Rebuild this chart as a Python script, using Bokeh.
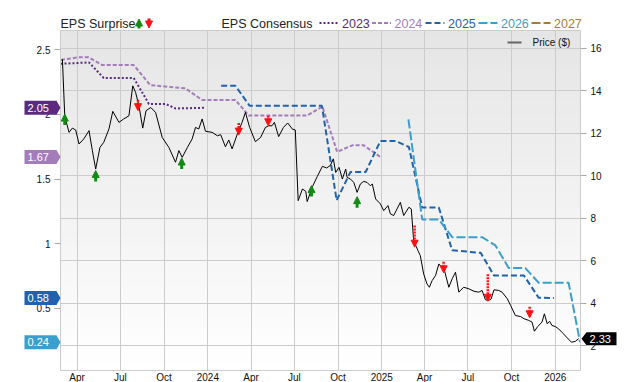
import pandas as pd
from bokeh.plotting import figure
from bokeh.models import (Range1d, LinearAxis, FixedTicker, BoxAnnotation, Label, Arrow,
                          NormalHead, PolyAnnotation, ColumnDataSource)
from bokeh.embed import file_html
from bokeh.resources import INLINE

# ---------------- data ----------------
price_dates = [
    "2023-03-01", "2023-03-06", "2023-03-15", "2023-03-22", "2023-03-29", "2023-04-05", "2023-04-15",
    "2023-04-26", "2023-05-03", "2023-05-10", "2023-05-19", "2023-05-27", "2023-06-07", "2023-06-15",
    "2023-06-28", "2023-07-08", "2023-07-19", "2023-07-27", "2023-08-02", "2023-08-09", "2023-08-17",
    "2023-08-24", "2023-09-03", "2023-09-13", "2023-09-27", "2023-10-11", "2023-10-25", "2023-11-01",
    "2023-11-08", "2023-11-19", "2023-11-29", "2023-12-06", "2023-12-13", "2023-12-20", "2023-12-27",
    "2024-01-10", "2024-01-21", "2024-01-28", "2024-02-07", "2024-02-14", "2024-02-21", "2024-03-03",
    "2024-03-13", "2024-03-20", "2024-03-29", "2024-04-10", "2024-04-21", "2024-05-01", "2024-05-08",
    "2024-05-15", "2024-05-20", "2024-05-29", "2024-06-08", "2024-06-17", "2024-06-27", "2024-07-03",
    "2024-07-09", "2024-07-18", "2024-07-25", "2024-07-28", "2024-08-08", "2024-08-18", "2024-08-29",
    "2024-09-07", "2024-09-15", "2024-09-21", "2024-09-26", "2024-10-03", "2024-10-10", "2024-10-17",
    "2024-10-20", "2024-10-27", "2024-11-03", "2024-11-10", "2024-11-17", "2024-11-24", "2024-12-01",
    "2024-12-08", "2024-12-12", "2024-12-19", "2024-12-29",
    "2025-01-05", "2025-01-14", "2025-01-19", "2025-01-26", "2025-02-02", "2025-02-09", "2025-02-16",
    "2025-02-27", "2025-03-04", "2025-03-09", "2025-03-18", "2025-03-23", "2025-03-30", "2025-04-06",
    "2025-04-11", "2025-04-17", "2025-04-24", "2025-05-01", "2025-05-07", "2025-05-11", "2025-05-22",
    "2025-05-29", "2025-06-05", "2025-06-12", "2025-06-22", "2025-07-03", "2025-07-14", "2025-07-24",
    "2025-07-31", "2025-08-07", "2025-08-14", "2025-08-19", "2025-08-25", "2025-09-04", "2025-09-11",
    "2025-09-22", "2025-09-29", "2025-10-09", "2025-10-20", "2025-10-27", "2025-11-06", "2025-11-13",
    "2025-11-18", "2025-11-25", "2025-12-04", "2025-12-09", "2025-12-15", "2025-12-20", "2025-12-25",
    "2026-01-01", "2026-01-08", "2026-01-18", "2026-01-26", "2026-02-04", "2026-02-12", "2026-02-19",
]
price_values = [
    15.5, 12.8, 12.05, 12.25, 12.16, 11.5, 11.74, 12.13, 11.19, 10.32, 11.34, 11.58, 12.21, 13.04,
    12.52, 12.68, 12.83, 14.24, 13.93, 13.3, 12.25, 13.07, 13.22, 12.99, 11.81, 11.34, 10.64, 11.19,
    10.87, 11.34, 11.74, 12.28, 12.21, 12.68, 12.1,
    12.05, 11.89, 11.94, 11.37, 11.69, 11.27, 11.97, 12.52, 12.99, 12.28, 11.61, 11.81, 12.28, 12.36,
    12.36, 12.52, 11.85, 12.28, 12.49, 12.2, 12.16, 8.83, 9.38, 9.27, 8.79, 9.49, 9.96, 10.45, 10.37,
    10.5, 10.8, 10.16, 10.4, 9.85, 10.32, 9.93, 9.85, 9.69, 9.22, 9.62, 9.74, 9.69, 9.53, 9.62, 8.91, 8.68,
    8.36, 8.6, 8.21, 8.13, 8.44, 8.75, 8.13, 8.52, 8.44, 6.95, 6.48, 6.24, 5.38, 4.91, 4.75, 5.07, 5.3,
    5.85, 5.69, 5.69, 4.75, 5.15, 5.46, 4.52, 4.75, 4.68, 4.56, 4.52, 4.6, 4.16, 4.13, 4.2, 4.63, 4.6,
    4.52, 4.21, 3.89, 3.42, 3.37, 3.27, 3.19, 3.11, 2.68, 2.9, 3.11, 3.5, 3.03, 3.15, 2.95, 2.9, 2.79,
    2.56, 2.37, 2.16, 2.2, 2.33,
]

eps2023_dates = ["2023-02-25", "2023-04-26", "2023-05-27", "2023-07-29", "2023-08-30", "2023-10-04",
                 "2023-10-25", "2023-12-27"]
eps2023 = [2.39, 2.40, 2.28, 2.28, 2.08, 2.08, 2.045, 2.05]

eps2024_dates = ["2023-02-26", "2023-04-04", "2023-04-25", "2023-05-24", "2023-07-29", "2023-09-02",
                 "2023-11-15", "2023-12-20", "2024-02-28", "2024-03-27", "2024-07-28", "2024-08-29",
                 "2024-09-29", "2024-10-31", "2024-11-24", "2024-12-29"]
eps2024 = [2.42, 2.44, 2.44, 2.38, 2.38, 2.225, 2.20, 2.11, 2.11, 1.99, 1.99, 2.06, 1.71, 1.76, 1.76, 1.67]

eps2025_dates = ["2024-01-29", "2024-02-28", "2024-03-29", "2024-08-28", "2024-09-28", "2024-10-27",
                 "2024-11-28", "2024-12-29", "2025-01-30", "2025-02-27", "2025-03-27", "2025-05-01",
                 "2025-05-29", "2025-07-28", "2025-08-25", "2025-10-27", "2025-11-27", "2025-12-29"]
eps2025 = [2.22, 2.22, 2.065, 2.065, 1.335, 1.554, 1.554, 1.794, 1.794, 1.747, 1.279, 1.279,
           0.949, 0.93, 0.755, 0.755, 0.583, 0.58]

eps2026_dates = ["2025-02-26", "2025-03-27", "2025-05-01", "2025-05-29", "2025-07-31", "2025-08-28",
                 "2025-09-25", "2025-10-30", "2025-11-27", "2026-01-29", "2026-02-22"]
eps2026 = [1.96, 1.188, 1.188, 1.051, 1.051, 0.987, 0.812, 0.812, 0.699, 0.699, 0.24]

beat_dates = ["2023-03-06", "2023-05-10", "2023-11-07", "2024-08-06", "2024-11-10"]
beat_price = [12.91, 10.25, 10.84, 9.54, 9.02]
miss_dates = ["2023-08-07", "2024-03-06", "2024-05-07", "2025-03-11", "2025-05-11", "2025-08-12", "2025-11-08"]
miss_price = [13.07, 11.92, 12.36, 6.64, 5.43, 4.09, 3.31]
miss_trail = [0.05, 0.1, 0.0, 0.55, 0.05, 0.8, 0.05]

series_years = ["2023", "2024", "2025", "2026", "2027"]
consensus_last = [2.05, 1.67, 0.58, 0.24]
last_price = 2.33

eps_ticks = [0.5, 1, 1.5, 2, 2.5]
eps_tick_labels = ["0.5", "1", "1.5", "2", "2.5"]
price_ticks = [2, 4, 6, 8, 10, 12, 14, 16]
x_tick_dates = ["2023-04-01", "2023-07-01", "2023-10-01", "2024-01-01", "2024-04-01", "2024-07-01",
                "2024-10-01", "2025-01-01", "2025-04-01", "2025-07-01", "2025-10-01", "2026-01-01"]
x_tick_labels = ["Apr", "Jul", "Oct", "2024", "Apr", "Jul", "Oct", "2025", "Apr", "Jul", "Oct", "2026"]

# ---------------- layout / styling ----------------
FONT = "Liberation Sans"
COL = {"2023": "#5b2a80", "2024": "#a47cbb", "2025": "#1f63ae", "2026": "#3b9fcd", "2027": "#a87c34"}
TXT = {"2023": "#5b2a80", "2024": "#a47cbb", "2025": "#2a5ea6", "2026": "#4a9ac4", "2027": "#a87c34"}
DASH = {"2023": "2 2", "2024": "4 2", "2025": "6 3", "2026": "9 3", "2027": "9 3"}
GREEN, RED = "#138a13", "#ff1010"

W, H = 640, 382
FL, FR, FT, FB = 0, 640, 0, 382       # canvas frame box (whole page)
IL, IR, IT, IB = 60, 580, 30, 370     # inner plot area

X0, X1 = pd.Timestamp("2023-02-25"), pd.Timestamp("2026-02-23")
EPS_LO, EPS_HI = 0.021, 2.647
PX_LO, PX_HI = 0.829, 16.848


def ms(s):
    return float(pd.Timestamp(s).value // 10**6)


mpp = (ms(X1) - ms(X0)) / (IR - IL)
ppe = (IB - IT) / (EPS_HI - EPS_LO)
ppp = (IB - IT) / (PX_HI - PX_LO)


def sx(cx):  # canvas x -> frame screen x
    return cx - FL


def sy(cy):  # canvas y -> frame screen y (from bottom)
    return FB - cy


def price_on_eps(v):  # same vertical position expressed on the EPS scale
    return EPS_LO + (v - PX_LO) * ppp / ppe


xr = Range1d(ms(X0) - (IL - FL) * mpp, ms(X1) + (FR - IR) * mpp)
yr = Range1d(EPS_LO - (FB - IB) / ppe, EPS_HI + (IT - FT) / ppe)
pr = Range1d(PX_LO - (FB - IB) / ppp, PX_HI + (IT - FT) / ppp)

p = figure(width=W, height=H, x_axis_type="datetime", x_range=xr, y_range=yr, title=None,
           output_backend="svg", toolbar_location=None,
           min_border_left=0, min_border_right=0, min_border_top=0, min_border_bottom=0)
p.extra_y_ranges = {"price": pr}
p.background_fill_color = "#ffffff"
p.border_fill_color = "#ffffff"
p.outline_line_color = None

# gradient background of the inner area
N = 48
for i in range(N):
    yb = EPS_LO + (EPS_HI - EPS_LO) * i / N
    f = 1 - (i + 0.5) / N
    g = int(round(229 + (255 - 229) * f))
    p.add_layout(BoxAnnotation(left=ms(X0), right=ms(X1), bottom=yb, top=EPS_HI,
                               fill_color="#%02x%02x%02x" % (g, g, g), fill_alpha=1,
                               line_alpha=0, level="image"))

# grids
p.xgrid.ticker = FixedTicker(ticks=[ms(d) for d in x_tick_dates])
p.ygrid.ticker = FixedTicker(ticks=price_ticks)
p.ygrid.y_range_name = "price"
for gr in (p.xgrid, p.ygrid):
    gr.grid_line_color = "#cccccc"
    gr.grid_line_width = 1

# white masks outside the inner area + inner border
for l, r, b, t in ((xr.start, ms(X0), yr.start, yr.end), (ms(X1), xr.end, yr.start, yr.end),
                   (xr.start, xr.end, EPS_HI, yr.end), (xr.start, xr.end, yr.start, EPS_LO)):
    p.add_layout(BoxAnnotation(left=l, right=r, bottom=b, top=t, fill_color="#ffffff",
                               fill_alpha=1, line_alpha=0, level="underlay"))
p.add_layout(BoxAnnotation(left=ms(X0), right=ms(X1), bottom=EPS_LO, top=EPS_HI, fill_alpha=0,
                           line_color="#cccccc", line_width=1, line_alpha=1, level="underlay"))

# axes
lax = p.yaxis[0]
lax.ticker = FixedTicker(ticks=eps_ticks)
lax.major_label_overrides = {t: l for t, l in zip(eps_ticks, eps_tick_labels)}
lax.fixed_location = ms(X0)
lax.bounds = (EPS_LO, EPS_HI)
rax = LinearAxis(y_range_name="price", ticker=FixedTicker(ticks=price_ticks))
p.add_layout(rax, "right")
rax.fixed_location = ms(X1)
rax.bounds = (PX_LO, PX_HI)
for ax in (lax, rax):
    ax.axis_line_color = "#cccccc"
    ax.major_tick_out = 6
    ax.major_tick_in = 0
    ax.minor_tick_line_color = None
    ax.major_tick_line_color = "#aaaaaa"
    ax.major_label_standoff = 4
    ax.major_label_text_font = FONT
    ax.major_label_text_font_size = "10px"
    ax.major_label_text_color = "#111111"
xax = p.xaxis[0]
xax.ticker = FixedTicker(ticks=[ms(d) for d in x_tick_dates])
xax.major_label_overrides = {ms(d): l for d, l in zip(x_tick_dates, x_tick_labels)}
xax.fixed_location = EPS_LO
xax.bounds = (ms(X0), ms(X1))
xax.axis_line_color = "#cccccc"
xax.major_tick_out = 0
xax.major_tick_in = 0
xax.minor_tick_line_color = None
xax.major_label_standoff = 1
xax.major_label_text_font = FONT
xax.major_label_text_font_size = "10px"
xax.major_label_text_color = "#111111"

# consensus lines
for yr_, d, v in (("2024", eps2024_dates, eps2024), ("2023", eps2023_dates, eps2023),
                  ("2025", eps2025_dates, eps2025), ("2026", eps2026_dates, eps2026)):
    p.line(pd.to_datetime(d), v, line_color=COL[yr_], line_width=2, line_dash=DASH[yr_])

# price line
p.line(pd.to_datetime(price_dates), price_values, y_range_name="price", line_color="#000000", line_width=1)

# surprise arrows
beat_src = ColumnDataSource(dict(x=[ms(d) for d in beat_dates], tip=beat_price,
                                 base=[v - 11 / ppp for v in beat_price]))
p.add_layout(Arrow(source=beat_src, x_start="x", y_start="base", x_end="x", y_end="tip",
                   y_range_name="price", line_color=GREEN, line_width=3,
                   end=NormalHead(size=7, fill_color=GREEN, line_color=GREEN, line_width=1)))
miss_src = ColumnDataSource(dict(x=[ms(d) for d in miss_dates], tip=miss_price,
                                 base=[v + 10 / ppp + t for v, t in zip(miss_price, miss_trail)]))
p.add_layout(Arrow(source=miss_src, x_start="x", y_start="base", x_end="x", y_end="tip",
                   y_range_name="price", line_color=RED, line_width=2.5, line_dash="2 1",
                   end=NormalHead(size=7, fill_color=RED, line_color=RED, line_width=1)))

# left callouts (last consensus values)
for yr_, v in zip(series_years, consensus_last):
    h = 7 / ppe
    p.add_layout(PolyAnnotation(xs=[sx(24), sx(56), sx(60), sx(56), sx(24)],
                                ys=[v + h, v + h, v, v - h, v - h], xs_units="screen", ys_units="data",
                                fill_color=COL[yr_], fill_alpha=1, line_alpha=0))
    p.add_layout(Label(x=sx(27), y=v, x_units="screen", y_units="data", text="%.2f" % v,
                       text_color="#ffffff", text_font=FONT, text_font_size="11px",
                       text_baseline="middle", text_align="left"))

# right callout (last price)
lp = price_on_eps(last_price)
h = 6.5 / ppe
p.add_layout(PolyAnnotation(xs=[sx(581), sx(586), sx(616), sx(616), sx(586)],
                            ys=[lp, lp + h, lp + h, lp - h, lp - h],
                            xs_units="screen", ys_units="data",
                            fill_color="#000000", fill_alpha=1, line_alpha=0))
p.add_layout(Label(x=sx(589), y=lp, x_units="screen", y_units="data",
                   text="%.2f" % last_price, text_color="#ffffff", text_font=FONT,
                   text_font_size="11px", text_baseline="middle", text_align="left"))

# header legend
HY = 23
p.add_layout(Label(x=sx(60), y=sy(HY), x_units="screen", y_units="screen", text="EPS Surprise",
                   text_font=FONT, text_font_size="12.5px", text_color="#222222", text_baseline="middle"))
p.add_layout(Arrow(x_start=sx(138.5), y_start=sy(28), x_end=sx(138.5), y_end=sy(18.5),
                   start_units="screen", end_units="screen", line_color=GREEN, line_width=3,
                   end=NormalHead(size=7, fill_color=GREEN, line_color=GREEN, line_width=1)))
p.add_layout(Arrow(x_start=sx(148.5), y_start=sy(18), x_end=sx(148.5), y_end=sy(27.5),
                   start_units="screen", end_units="screen", line_color=RED, line_width=3,
                   end=NormalHead(size=7, fill_color=RED, line_color=RED, line_width=1)))
p.add_layout(Label(x=sx(221), y=sy(HY), x_units="screen", y_units="screen", text="EPS Consensus",
                   text_font=FONT, text_font_size="12.5px", text_color="#222222", text_baseline="middle"))
sample_x = [319, 371.5, 425, 478, 531]
for yr_, x in zip(series_years, sample_x):
    p.add_layout(Arrow(x_start=sx(x), y_start=sy(22.5), x_end=sx(x + 19), y_end=sy(22.5),
                       start_units="screen", end_units="screen", line_color=COL[yr_], line_width=2,
                       line_dash=DASH[yr_], end=None))
    p.add_layout(Label(x=sx(x + 22.5), y=sy(HY), x_units="screen", y_units="screen", text=yr_,
                       text_font=FONT, text_font_size="12.5px", text_color=TXT[yr_], text_baseline="middle"))

# price legend
p.add_layout(Arrow(x_start=sx(507), y_start=sy(42), x_end=sx(521), y_end=sy(42),
                   start_units="screen", end_units="screen", line_color="#666666", line_width=2, end=None))
p.add_layout(Label(x=sx(532), y=sy(42), x_units="screen", y_units="screen", text="Price ($)",
                   text_font=FONT, text_font_size="10px", text_color="#111111", text_baseline="middle"))

open("out.html", "w").write(file_html(p, INLINE))
